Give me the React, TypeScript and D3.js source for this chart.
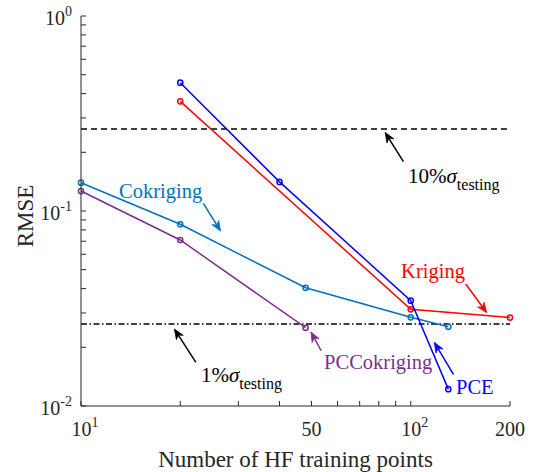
import React from "react";
import * as d3 from "d3";

const pceN = [20, 40, 100, 130];
const pceRmse = [0.455, 0.141, 0.0347, 0.0122];
const krigN = [20, 100, 200];
const krigRmse = [0.365, 0.0313, 0.0284];
const cokN = [10, 20, 48, 100, 130];
const cokRmse = [0.1397, 0.0855, 0.0404, 0.0285, 0.0255];
const pccN = [10, 20, 48];
const pccRmse = [0.1266, 0.071, 0.0252];
const tenPct = 0.2634;
const onePct = 0.02634;

const xTicks = [10, 20, 30, 40, 50, 60, 70, 80, 90, 100, 200];
const xTickLabels: Record<number, [string, string]> = {
  10: ["10", "1"],
  50: ["50", ""],
  100: ["10", "2"],
  200: ["200", ""],
};
const yMajor = [0.01, 0.1, 1];
const yMajorExp = ["-2", "-1", "0"];

const W = 538;
const H = 472;
const L = 81, R = 510, T = 16, B = 406;
const FONT = "Liberation Serif, Times New Roman, Times, serif";
const TS: React.CSSProperties = { fontFamily: FONT };

const x = d3.scaleLog().domain([10, 200]).range([L, R]);
const y = d3.scaleLog().domain([0.01, 1]).range([B, T]);

type Series = { n: number[]; v: number[]; color: string };
const series: Series[] = [
  { n: cokN, v: cokRmse, color: "#0072BD" },
  { n: pccN, v: pccRmse, color: "#7E2F8E" },
  { n: krigN, v: krigRmse, color: "#FF0000" },
  { n: pceN, v: pceRmse, color: "#0000FF" },
];

// annotations in data coordinates
const arrows = [
  { from: [23.5, 0.1095], to: [26.5, 0.0789], color: "#0072BD" },
  { from: [146.8, 0.0422], to: [170, 0.0301], color: "#FF0000" },
  { from: [95, 0.179], to: [83.6, 0.253], color: "#000000" },
  { from: [22.3, 0.01675], to: [19.2, 0.0248], color: "#000000" },
  { from: [53.5, 0.0192], to: [49.8, 0.024], color: "#7E2F8E" },
  { from: [134.7, 0.01454], to: [117.9, 0.0212], color: "#0000FF" },
];
const labels = [
  { text: "Cokriging", at: [13.04, 0.1166], color: "#0072BD" },
  { text: "Kriging", at: [93.5, 0.0453], color: "#FF0000" },
  { text: "PCCokriging", at: [54.6, 0.01548], color: "#7E2F8E" },
  { text: "PCE", at: [137.2, 0.01152], color: "#0000FF" },
];
const sigmaLabels = [
  { pct: "10%", at: [98.1, 0.139] },
  { pct: "1%", at: [23.1, 0.01328] },
];

function Arrow({ x1, y1, x2, y2, color }: any) {
  const ang = Math.atan2(y2 - y1, x2 - x1);
  const len = 10, hw = 4, notch = 3;
  const cos = Math.cos(ang), sin = Math.sin(ang);
  const px = (a: number, b: number) => [x2 + a * cos - b * sin, y2 + a * sin + b * cos];
  const p1 = px(-len, hw);
  const p2 = px(-len + notch, 0);
  const p3 = px(-len, -hw);
  const s = px(-len + notch, 0);
  return (
    <g>
      <line x1={x1} y1={y1} x2={s[0]} y2={s[1]} stroke={color} strokeWidth={1.5} />
      <path d={`M${x2},${y2}L${p1[0]},${p1[1]}L${p2[0]},${p2[1]}L${p3[0]},${p3[1]}Z`} fill={color} stroke={color} strokeWidth={0.8} strokeLinejoin="miter" />
    </g>
  );
}

export default function App() {
  const line = d3
    .line<[number, number]>()
    .x((d) => x(d[0]))
    .y((d) => y(d[1]));

  const yMinor: number[] = [];
  [0.01, 0.1].forEach((dec) => {
    for (let k = 2; k <= 9; k++) yMinor.push(dec * k);
  });

  return (
    <svg width={W} height={H} style={{ display: "block", position: "absolute", left: 0, top: 0, background: "#fff", fontFamily: FONT }}>
      <rect x={0} y={0} width={W} height={H} fill="#fff" />
      {/* reference lines */}
      <line x1={L} x2={R} y1={y(tenPct)} y2={y(tenPct)} stroke="#000" strokeWidth={1.3} strokeDasharray="6 4" />
      <line x1={L} x2={R} y1={y(onePct)} y2={y(onePct)} stroke="#000" strokeWidth={1.3} strokeDasharray="6 2.5 1.5 2.5" />

      {/* series */}
      {series.map((s, i) => {
        const pts = s.n.map((n, j) => [n, s.v[j]] as [number, number]);
        return (
          <g key={i}>
            <path d={line(pts) || ""} fill="none" stroke={s.color} strokeWidth={1.5} />
            {pts.map((p, j) => (
              <circle key={j} cx={x(p[0])} cy={y(p[1])} r={2.6} fill="none" stroke={s.color} strokeWidth={1.5} />
            ))}
          </g>
        );
      })}

      {/* axes */}
      <line x1={L} x2={L} y1={T} y2={B} stroke="#262626" strokeWidth={1} />
      <line x1={L} x2={R} y1={B} y2={B} stroke="#262626" strokeWidth={1} />
      {yMajor.concat(yMinor).map((v, i) => (
        <line key={"yt" + i} x1={L} x2={L + 5} y1={y(v)} y2={y(v)} stroke="#262626" strokeWidth={1} />
      ))}
      {xTicks.map((n, i) => (
        <line key={"xt" + i} x1={x(n)} x2={x(n)} y1={B} y2={B - 5} stroke="#262626" strokeWidth={1} />
      ))}
      {yMajor.map((v, i) => (
        <text key={"yl" + i} style={TS} x={L - 9} y={y(v) + 9} textAnchor="end" fontSize={20} fill="#262626">
          10
          <tspan fontSize={14} dy={-9}>{yMajorExp[i]}</tspan>
        </text>
      ))}
      {xTicks.filter((n) => xTickLabels[n]).map((n) => {
        const [base, exp] = xTickLabels[n];
        return (
          <text key={"xl" + n} style={TS} x={x(n) + (exp ? 4 : 0)} y={436} textAnchor="middle" fontSize={20} fill="#262626">
            {base}
            {exp && <tspan fontSize={14} dy={-9}>{exp}</tspan>}
          </text>
        );
      })}
      <text style={TS} x={(L + R) / 2 + 0} y={467} textAnchor="middle" fontSize={23} fill="#262626">
        Number of HF training points
      </text>
      <text style={TS} transform={`translate(33,216) rotate(-90)`} textAnchor="middle" fontSize={23} fill="#262626">
        RMSE
      </text>

      {/* annotations */}
      {arrows.map((a, i) => (
        <Arrow key={"ar" + i} x1={x(a.from[0])} y1={y(a.from[1])} x2={x(a.to[0])} y2={y(a.to[1])} color={a.color} />
      ))}
      {labels.map((l, i) => (
        <text key={"lb" + i} style={TS} x={x(l.at[0])} y={y(l.at[1])} fontSize={20.5} fill={l.color}>
          {l.text}
        </text>
      ))}
      {sigmaLabels.map((s, i) => (
        <text key={"sg" + i} style={TS} x={x(s.at[0])} y={y(s.at[1])} fontSize={21} fill="#000">
          {s.pct}
          <tspan fontStyle="italic">σ</tspan>
          <tspan fontSize={16} dy={7}>testing</tspan>
        </text>
      ))}
    </svg>
  );
}
